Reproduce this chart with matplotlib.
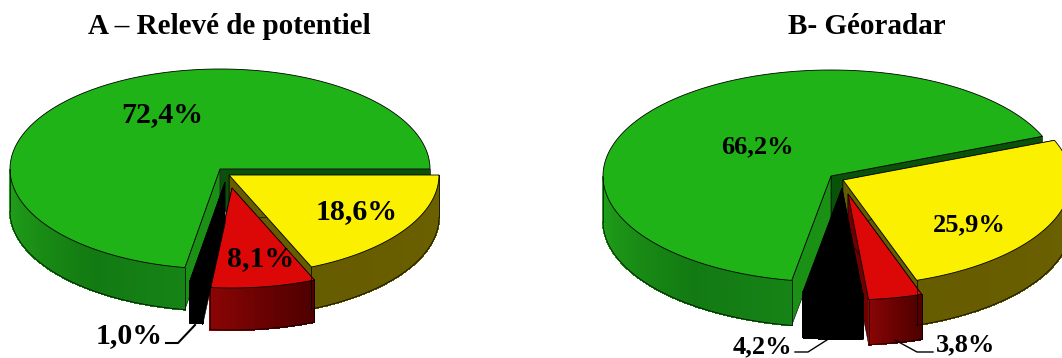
#!/usr/bin/env python3
"""Deux camemberts 3D : relevé de potentiel et géoradar"""

import numpy as np
import matplotlib.pyplot as plt
from matplotlib.colors import LinearSegmentedColormap

# Données (%), dans l'ordre des parts en tournant dans le sens horaire
categories = ['jaune', 'rouge', 'noir', 'vert']
valeurs_a = [18.6, 8.1, 1.0, 72.4]
valeurs_b = [25.9, 3.8, 4.2, 66.2]
titre_a = 'A – Relevé de potentiel'
titre_b = 'B- Géoradar'

# couleurs : dessus, mur de coupe cote t_debut, mur de coupe cote t_fin, degradé du mur extérieur
STYLES = {
    'vert': ('#20b317', '#1a9014', '#0a520a', ['#22a31c', '#1b9016', '#127a12', '#168316']),
    'jaune': ('#faf000', '#665c00', '#665c00', ['#665c00', '#6b6100']),
    'rouge': ('#dc0808', '#6e0000', '#6e0000', ['#8c0505', '#6a0202', '#4f0000']),
    'noir': ('#000000', '#000000', '#000000', ['#000000', '#000000']),
}


def point(c, r, t):
    t = np.radians(t)
    return c[0] + r[0] * np.cos(t), c[1] - r[1] * np.sin(t)


def dessiner_part(ax, nom, c, r, prof, t_fin, t_debut):
    """t_debut > t_fin en degrés, le secteur va de t_fin à t_debut (sens trigo)"""
    dessus, mur_debut, mur_fin, degrade = STYLES[nom]
    ts = np.linspace(t_fin, t_debut, 200)
    xs, ys = point(c, r, ts)

    # murs de coupe : le mur sombre d'abord, il passe derrière l'autre
    for t, coul in ((t_fin, mur_fin), (t_debut, mur_debut)):
        x, y = point(c, r, t)
        ax.fill([c[0], x, x, c[0]], [c[1], y, y + prof, c[1] + prof],
                facecolor=coul, edgecolor='black', linewidth=0.4)

    # mur extérieur, seulement sur la moitié avant de l'ellipse
    visibles = [t for t in np.linspace(t_fin, t_debut, 300) if np.sin(np.radians(t)) < 0]
    if len(visibles) > 1:
        cmap = LinearSegmentedColormap.from_list('mur', degrade)
        vx, vy = point(c, r, np.array(visibles))
        for i in range(len(visibles) - 1):
            coul = cmap(i / (len(visibles) - 2))
            ax.fill([vx[i], vx[i + 1], vx[i + 1], vx[i]],
                    [vy[i], vy[i + 1], vy[i + 1] + prof, vy[i] + prof],
                    facecolor=coul, edgecolor=coul, linewidth=0.8, antialiased=False)
        ax.plot(vx, vy + prof, color='black', linewidth=0.5)
        ax.plot([vx[0], vx[0]], [vy[0], vy[0] + prof], color='black', linewidth=0.5)
        ax.plot([vx[-1], vx[-1]], [vy[-1], vy[-1] + prof], color='black', linewidth=0.5)

    # dessus
    ax.fill(np.r_[c[0], xs], np.r_[c[1], ys], facecolor=dessus,
            edgecolor='black', linewidth=0.6)


def dessiner_camembert(ax, valeurs, centres, r, prof, t_depart):
    pas = 360.0 / sum(valeurs)
    t = t_depart
    parts = {}
    for nom, v in zip(categories, valeurs):
        parts[nom] = (t - v * pas, t)
        t -= v * pas
    for nom in ['vert', 'jaune', 'rouge', 'noir']:
        t_fin, t_debut = parts[nom]
        dessiner_part(ax, nom, centres[nom], r, prof, t_fin, t_debut)


fig = plt.figure(figsize=(10.62, 3.58), dpi=100)
ax = fig.add_axes([0, 0, 1, 1])
ax.set_xlim(0, 1062)
ax.set_ylim(358, 0)
ax.axis('off')

dessiner_camembert(ax, valeurs_a,
                   {'vert': (220, 169), 'jaune': (229, 175), 'rouge': (232, 188), 'noir': (225, 182)},
                   (210, 100), 42, 0)
dessiner_camembert(ax, valeurs_b,
                   {'vert': (831, 176), 'jaune': (843, 180), 'rouge': (848, 194), 'noir': (842, 188)},
                   (228, 106), 45, 22)

serif = 'Liberation Serif'
ax.text(229, 26, titre_a, ha='center', va='center', family=serif, fontweight='bold', fontsize=21)
ax.text(867, 26, titre_b, ha='center', va='center', family=serif, fontweight='bold', fontsize=21)


def etiquette(x, y, v, taille):
    ax.text(x, y, f'{v:.1f}%'.replace('.', ','), ha='center', va='center',
            family=serif, fontweight='bold', fontsize=taille, color='black')


etiquette(162, 115, valeurs_a[3], 21.5)
etiquette(357, 212, valeurs_a[0], 21.5)
etiquette(261, 259, valeurs_a[1], 21.5)
etiquette(129, 336, valeurs_a[2], 21.5)
etiquette(757, 147, valeurs_b[3], 19)
etiquette(969, 225, valeurs_b[0], 19)
etiquette(762, 347, valeurs_b[2], 19)
etiquette(966, 345, valeurs_b[1], 19)

# traits de rappel
ax.plot([166, 178, 195], [343, 343, 325], color='black', linewidth=1.5)
ax.plot([795, 808, 830], [352, 352, 338], color='black', linewidth=1.0)
ax.plot([895, 917, 933], [340, 352, 352], color='black', linewidth=1.0)

plt.savefig('out.png', dpi=100)
plt.close()
